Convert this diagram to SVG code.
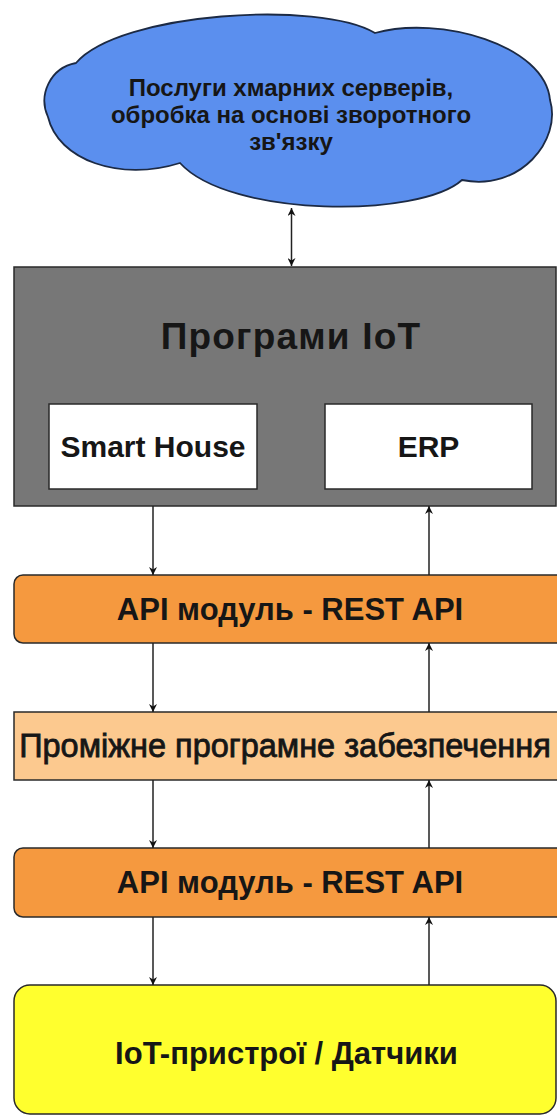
<svg xmlns="http://www.w3.org/2000/svg" width="557" height="1115" viewBox="0 0 557 1115">
<defs>
<style>
.t{font-family:"Liberation Sans",Arial,sans-serif;fill:#161616;text-anchor:middle}
.b{font-weight:bold}
.box{stroke:#2a2a2a;stroke-width:1.5}
.c{fill:none;stroke:#222;stroke-width:1.5}
</style>
<marker id="ah" viewBox="0 0 10 10" refX="10" refY="5" markerWidth="8" markerHeight="8" orient="auto-start-reverse" markerUnits="userSpaceOnUse">
<path d="M0,0 L10,5 L0,10 L3,5 Z" fill="#111"/>
</marker>
</defs>
<rect width="557" height="1115" fill="#fff"/>
<g id="cloud">
<path d="M48,117 C38,95 50,68 76,63 C120,12 320,0 375,33 C440,15 545,45 550,100 C562,140 520,192 462,180 C420,218 230,218 180,163 C120,182 58,160 48,117 Z" fill="#5b8fee" stroke="#1c2a44" stroke-width="1.8"/>
<text class="t b" x="291" y="96" font-size="24" fill="#111a33">Послуги хмарних серверів,</text>
<text class="t b" x="291" y="123" font-size="24" fill="#111a33">обробка на основі зворотного</text>
<text class="t b" x="291" y="150" font-size="24" fill="#111a33">зв'язку</text>
</g>
<g id="iot-apps">
<rect class="box" x="14" y="267" width="542" height="239" fill="#777"/>
<text class="t b" x="291" y="349" font-size="37" letter-spacing="1.2" fill="#1c1c1c">Програми IoT</text>
</g>
<g id="smart-house">
<rect class="box" x="49" y="404" width="208" height="85" fill="#fff"/>
<text class="t b" x="153" y="457" font-size="30">Smart House</text>
</g>
<g id="erp">
<rect class="box" x="325" y="404" width="207" height="85" fill="#fff"/>
<text class="t b" x="428.5" y="457" font-size="30">ERP</text>
</g>
<g id="api-top">
<rect class="box" x="14" y="575" width="570" height="68" rx="9" fill="#f5993f"/>
<text class="t b" x="290" y="620" font-size="31">API модуль - REST API</text>
</g>
<g id="middleware">
<rect class="box" x="14" y="712" width="570" height="68" fill="#fcc98f"/>
<text class="t" x="285" y="757" font-size="32.5" stroke="#161616" stroke-width="0.8">Проміжне програмне забезпечення</text>
</g>
<g id="api-bottom">
<rect class="box" x="14" y="848" width="570" height="69" rx="9" fill="#f5993f"/>
<text class="t b" x="290" y="893" font-size="31">API модуль - REST API</text>
</g>
<g id="devices">
<rect class="box" x="14" y="985" width="542" height="129" rx="16" fill="#ffff2e"/>
<text class="t b" x="286.5" y="1064" font-size="31">IoT-пристрої / Датчики</text>
</g>
<g id="connectors">
<line class="c" x1="291.5" y1="208" x2="291.5" y2="266" marker-start="url(#ah)" marker-end="url(#ah)"/>
<line class="c" x1="153" y1="506" x2="153" y2="575" marker-end="url(#ah)"/>
<line class="c" x1="429" y1="575" x2="429" y2="506" marker-end="url(#ah)"/>
<line class="c" x1="153" y1="643" x2="153" y2="712" marker-end="url(#ah)"/>
<line class="c" x1="429" y1="712" x2="429" y2="643" marker-end="url(#ah)"/>
<line class="c" x1="153" y1="780" x2="153" y2="848" marker-end="url(#ah)"/>
<line class="c" x1="429" y1="848" x2="429" y2="780" marker-end="url(#ah)"/>
<line class="c" x1="153" y1="917" x2="153" y2="985" marker-end="url(#ah)"/>
<line class="c" x1="429" y1="985" x2="429" y2="917" marker-end="url(#ah)"/>
</g>
</svg>
